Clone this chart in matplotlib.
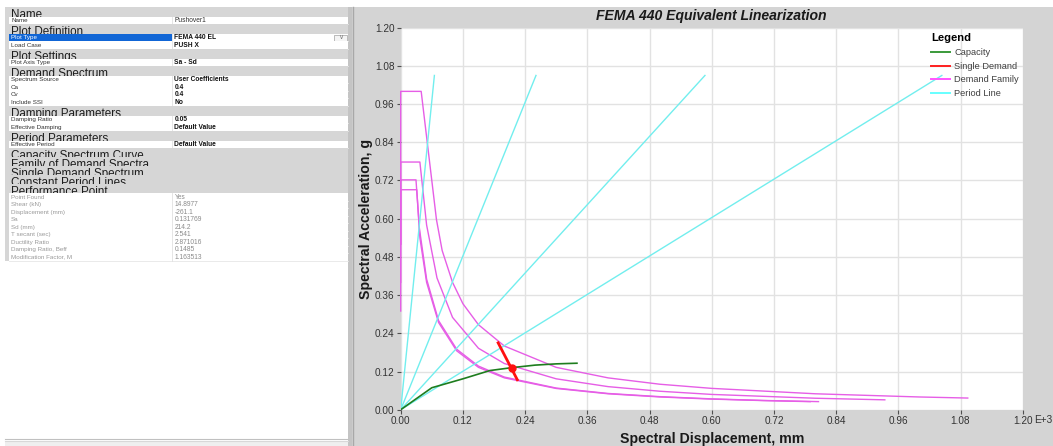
import matplotlib
matplotlib.use("Agg")
import matplotlib.pyplot as plt
from matplotlib.patches import Rectangle
from matplotlib.lines import Line2D
from matplotlib.transforms import Bbox, TransformedBbox

plt.rcParams['font.family'] = ['Liberation Sans', 'DejaVu Sans']

# ---- property grid (left panel) ----
# H = category header, C = collapsed category, R = row, S = selected row, P = result row
grid_kinds = ['H', 'R', 'H', 'S', 'R', 'H', 'R', 'H', 'R', 'R', 'R', 'R', 'H', 'R', 'R',
              'H', 'R', 'C', 'C', 'C', 'C', 'C',
              'P', 'P', 'P', 'P', 'P', 'P', 'P', 'P', 'P']
grid_labels = ['Name', 'Name', 'Plot Definition', 'Plot Type', 'Load Case', 'Plot Settings',
               'Plot Axis Type', 'Demand Spectrum', 'Spectrum Source', 'Ca', 'Cv', 'Include SSI',
               'Damping Parameters', 'Damping Ratio', 'Effective Damping', 'Period Parameters',
               'Effective Period', 'Capacity Spectrum Curve', 'Family of Demand Spectra',
               'Single Demand Spectrum', 'Constant Period Lines', 'Performance Point',
               'Point Found', 'Shear (kN)', 'Displacement (mm)', 'Sa', 'Sd (mm)', 'T secant (sec)',
               'Ductility Ratio', 'Damping Ratio, Beff', 'Modification Factor, M']
grid_values = ['', 'Pushover1', '', 'FEMA 440 EL', 'PUSH X', '', 'Sa - Sd', '', 'User Coefficients',
               '0.4', '0.4', 'No', '', '0.05', 'Default Value', '', 'Default Value', '', '', '', '', '',
               'Yes', '14.8977', '-261.1', '0.131769', '214.2', '2.541', '2.871016', '0.1485', '1.163513']

# ---- chart data ----
capacity_sd = [0.0, 0.060, 0.120, 0.172, 0.214, 0.259, 0.300, 0.340]
capacity_sa = [0.0, 0.069, 0.097, 0.123, 0.132, 0.140, 0.144, 0.146]

single_sd = [0.188, 0.225]
single_sa = [0.210, 0.094]
perf_sd = 0.2142
perf_sa = 0.1318

fam1_sd = [0, 0, 0.0395, 0.069, 0.08, 0.10, 0.12, 0.15, 0.20, 0.30, 0.40, 0.50, 0.60, 0.80, 1.00, 1.094]
fam1_sa = [0.40, 1.00, 1.00, 0.597, 0.50, 0.40, 0.333, 0.267, 0.200, 0.133, 0.100, 0.080, 0.067, 0.050, 0.040, 0.0366]
fam2_sd = [0, 0, 0.037, 0.050, 0.07, 0.10, 0.15, 0.20, 0.30, 0.40, 0.50, 0.60, 0.80, 0.934]
fam2_sa = [0.31, 0.778, 0.778, 0.58, 0.414, 0.29, 0.193, 0.145, 0.097, 0.0725, 0.058, 0.048, 0.036, 0.031]
fam3_sd = [0, 0, 0.0295, 0.036, 0.050, 0.073, 0.108, 0.15, 0.20, 0.30, 0.40, 0.50, 0.60, 0.70, 0.806]
fam3_sa = [0.52, 0.722, 0.722, 0.57, 0.41, 0.28, 0.19, 0.137, 0.1025, 0.068, 0.051, 0.041, 0.034, 0.029, 0.0254]
fam4_sd = [0, 0, 0.031, 0.037, 0.050, 0.073, 0.108, 0.15, 0.20, 0.30, 0.40, 0.50, 0.60, 0.70, 0.79]
fam4_sa = [0.52, 0.691, 0.691, 0.54, 0.40, 0.274, 0.185, 0.133, 0.100, 0.0667, 0.050, 0.040, 0.0333, 0.0286, 0.0253]

period_sd_end = [0.065, 0.261, 0.587, 1.044]
period_sa_end = [1.05, 1.05, 1.05, 1.05]

ticks = [0.00, 0.12, 0.24, 0.36, 0.48, 0.60, 0.72, 0.84, 0.96, 1.08, 1.20]
tick_labels = ['0.00', '0.12', '0.24', '0.36', '0.48', '0.60', '0.72', '0.84', '0.96', '1.08', '1.20']

W, H = 1053, 446
fig = plt.figure(figsize=(W / 100, H / 100), dpi=100)
fig.patch.set_facecolor('white')


def rect(x0, y0, x1, y1, color, z=0.0, ec='none', lw=0):
    r = Rectangle((x0 / W, 1 - y1 / H), (x1 - x0) / W, (y1 - y0) / H, transform=fig.transFigure,
                  facecolor=color, edgecolor=ec, linewidth=lw, zorder=z)
    fig.add_artist(r)
    return r


def hline(x0, x1, y, color, lw=1, z=2):
    fig.add_artist(Line2D([x0 / W, x1 / W], [1 - y / H, 1 - y / H], transform=fig.transFigure,
                          color=color, lw=lw, zorder=z))


def vline(x, y0, y1, color, lw=1, z=2):
    fig.add_artist(Line2D([x / W, x / W], [1 - y0 / H, 1 - y1 / H], transform=fig.transFigure,
                          color=color, lw=lw, zorder=z))


# left panel: each later row is drawn above the one before, so header text spilling
# past its band gets hidden like in the grid control
gx0, gx1, gcol = 5, 348, 172
y = 6.7
row_h = 7.5
head_h = {'H': 9.8, 'C': 9.0}
for i, (kind, lab, val) in enumerate(zip(grid_kinds, grid_labels, grid_values)):
    z = 1 + i * 0.02
    h = head_h.get(kind, row_h)
    if kind in ('H', 'C'):
        rect(gx0, y, gx1, y + h, '#d6d6d6', z=z)
        t = fig.text(11 / W, 1 - (y + h + 1.6) / H, lab, fontsize=8.4, color='#1e1e1e',
                     va='baseline', ha='left', zorder=z + 0.01)
        t.set_clip_box(TransformedBbox(Bbox([[gx0 / W, 1 - (y + h) / H], [gx1 / W, 1 - y / H]]),
                                       fig.transFigure))
        t.set_clip_on(True)
    else:
        rect(gx0, y, gx1, y + h, 'white', z=z)
        rect(gx0, y, 9, y + h, '#d6d6d6', z=z)
        lab_col = '#333333'
        val_col = '#111111'
        weight = 'bold'
        if kind == 'S':
            rect(9, y, gcol, y + h, '#1166d6', z=z)
            lab_col = 'white'
            rect(334, y + 0.8, 347, y + h - 0.6, '#f4f4f4', z=z + 0.005, ec='#b0b0b0', lw=0.6)
            fig.text(340.5 / W, 1 - (y + h / 2) / H, '\u2228', fontsize=5, color='#808080',
                     ha='center', va='center', zorder=z + 0.01)
        if kind == 'P':
            lab_col = '#9a9a9a'
            val_col = '#8a8a8a'
            weight = 'normal'
        if lab == 'Name':
            weight = 'normal'
            val_col = '#333333'
        fig.text(11 / W, 1 - (y + h / 2 + 0.3) / H, lab, fontsize=4.5, color=lab_col,
                 va='center', ha='left', zorder=z + 0.01)
        fig.text(174.5 / W, 1 - (y + h / 2 + 0.3) / H, val, fontsize=4.8, color=val_col,
                 weight=weight, va='center', ha='left', zorder=z + 0.01)
        hline(9, gx1, y + h, '#e6e6e6', lw=0.6, z=z + 0.01)
        vline(gcol, y, y + h, '#e0e0e0', lw=0.6, z=z + 0.01)
    y += h

# bottom strip + splitter of left panel
hline(5, 348, 438.5, '#c0c0c0', lw=0.8)
hline(5, 348, 440.5, '#d8d8d8', lw=0.8)
rect(5, 441, 348, 446, '#efefef', z=1)
rect(348, 6.7, 352, 446, '#c4c4c4', z=1)

# chart panel background
rect(352, 6.7, 1053, 446, '#d4d4d4', z=0)
vline(352.5, 6.7, 446, '#a8a8a8', lw=1)

ax = fig.add_axes([400.7 / W, 1 - 409.7 / H, 622 / W, 382 / H])
ax.set_facecolor('white')
for s in ax.spines.values():
    s.set_visible(False)
ax.set_xlim(0, 1.2)
ax.set_ylim(0, 1.2)
ax.set_xticks(ticks)
ax.set_xticklabels(tick_labels)
ax.set_yticks(ticks)
ax.set_yticklabels(tick_labels)
ax.tick_params(axis='both', labelsize=7.2, colors='#505050', length=3, width=0.8, pad=1.5)
ax.tick_params(axis='both', labelcolor='#333333')
ax.grid(True, color='#e2e2e2', lw=1)
ax.set_axisbelow(True)

fam_color = '#e65ee6'
for sd, sa in [(fam1_sd, fam1_sa), (fam2_sd, fam2_sa), (fam3_sd, fam3_sa), (fam4_sd, fam4_sa)]:
    ax.plot(sd, sa, color=fam_color, lw=1.0, clip_on=False, zorder=3)

per_color = '#72eeee'
for sd, sa in zip(period_sd_end, period_sa_end):
    ax.plot([0, sd], [0, sa], color=per_color, lw=1.0, zorder=3)

ax.plot(capacity_sd, capacity_sa, color='#1e7d1e', lw=1.2, zorder=4)
ax.plot(single_sd, single_sa, color='#ff1010', lw=2.0, zorder=5)
ax.plot([perf_sd], [perf_sa], 'o', color='#ff1010', ms=5, zorder=6)

# exponent tag to the right of the last x tick label
ax.annotate('E+3', xy=(1.2, 0), xycoords='data', xytext=(8.2, -7.6), textcoords='offset points',
            ha='left', va='center', fontsize=7.2, color='#333333', annotation_clip=False)

ax.set_xlabel('Spectral Displacement, mm', fontsize=10.2, weight='bold', color='#1a1a1a', labelpad=4)
ax.set_ylabel('Spectral Acceleration, g', fontsize=10.2, weight='bold', color='#1a1a1a', labelpad=1.5)
fig.text(711.7 / W, 1 - 16 / H, 'FEMA 440 Equivalent Linearization', fontsize=10.1, weight='bold',
         style='italic', color='#1a1a1a', ha='center', va='center')

handles = [Line2D([], [], color='#3a9a3a', lw=1.4), Line2D([], [], color='#ff2020', lw=1.4),
           Line2D([], [], color='#ff55ff', lw=1.4), Line2D([], [], color='#66ffff', lw=1.4)]
leg = ax.legend(handles, ['Capacity', 'Single Demand', 'Demand Family', 'Period Line'],
                title='Legend', loc='upper left', bbox_to_anchor=(0.845, 0.997), frameon=False,
                fontsize=6.7, title_fontproperties={'weight': 'bold', 'size': 8.1},
                handlelength=2.0, handletextpad=0.5, labelspacing=0.5, borderpad=0,
                alignment='left')
for t in leg.get_texts():
    t.set_color('#404040')

fig.savefig('out.png', dpi=100)
